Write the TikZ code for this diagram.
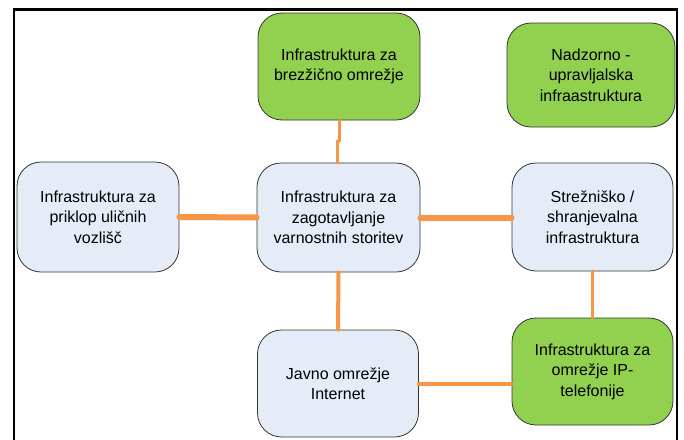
\documentclass[tikz,border=0pt]{standalone}
\usepackage{fontspec}
\setmainfont{Liberation Sans}
\begin{document}
\begin{tikzpicture}[x=1pt,y=-1pt,
  box/.style={draw=black!80, line width=0.8pt, rounded corners=24pt, align=center,
    inner sep=0pt, font=\fontsize{16}{20.5}\selectfont, text=black},
  gbox/.style={box, fill=green1},
  bbox/.style={box, fill=blue1},
  link/.style={draw=orange1, line cap=round}]
\definecolor{green1}{HTML}{92D050}
\definecolor{blue1}{HTML}{E6ECF7}
\definecolor{orange1}{HTML}{F79646}
\useasboundingbox (0,0) rectangle (684,439);
\draw[line width=2.3pt] (14,440) -- (14,9.5) -- (677,9.5) -- (677,440);
\node[gbox, minimum width=162pt, minimum height=107pt] (wl) at (339,66.5) {Infrastruktura za\\brezžično omrežje};
\node[gbox, minimum width=168pt, minimum height=104pt] (nad) at (591,75) {Nadzorno -\\upravljalska\\infraastruktura};
\node[bbox, minimum width=162pt, minimum height=110pt] (left) at (98,217) {Infrastruktura za\\priklop uličnih\\vozlišč};
\node[bbox, minimum width=163pt, minimum height=109pt] (cen) at (338.5,217.5) {Infrastruktura za\\zagotavljanje\\varnostnih storitev};
\node[bbox, minimum width=161pt, minimum height=108pt] (srv) at (592.5,217) {Strežniško /\\shranjevalna\\infrastruktura};
\node[gbox, minimum width=161pt, minimum height=107pt] (ip) at (592.5,371.5) {Infrastruktura za\\omrežje IP-\\telefonije};
\node[bbox, minimum width=161pt, minimum height=107pt] (jav) at (338,383.5) {Javno omrežje\\Internet};
\coordinate (k1) at (339.3,141);
\coordinate (k2) at (337.7,141);
\draw[link, line width=3.3pt] (wl.south -| k1) -- (k1) (k2) -- (cen.north -| k2);
\draw[link, line width=6pt] (left.east) -- (cen.west);
\draw[link, line width=6pt] (cen.east) -- (srv.west |- cen.east);
\draw[link, line width=4pt] (cen.south) -- (jav.north);
\draw[link, line width=3.5pt] (srv.south) -- (ip.north);
\draw[link, line width=4pt] (jav.east |- 0,384) -- (ip.west |- 0,384);
\end{tikzpicture}
\end{document}
